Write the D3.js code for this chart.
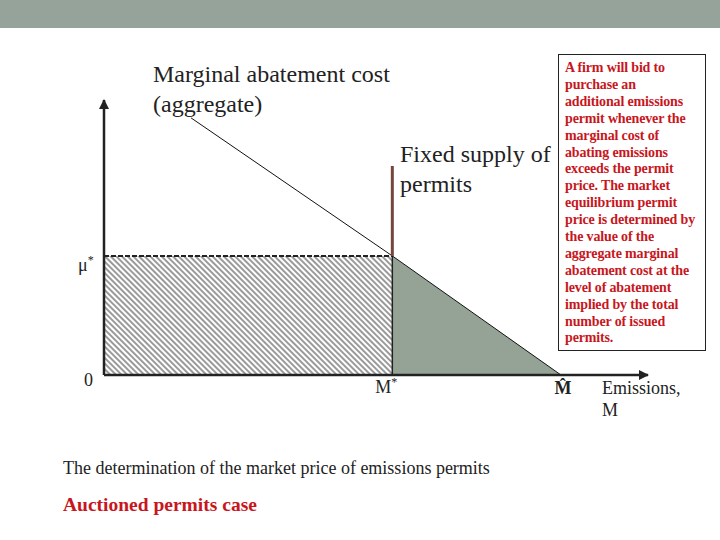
<!DOCTYPE html>
<html>
<head>
<meta charset="utf-8">
<script src="https://cdn.jsdelivr.net/npm/d3@7"></script>
<style>
  html, body { margin: 0; padding: 0; background: #fff; }
</style>
</head>
<body>
<div id="chart"></div>
<script>
// Values (axes run 0..100 in both directions)
const macCurve = [[16, 93.5], [53, 43.3], [84, 0]];   // aggregate marginal abatement cost
const permitSupply = 53;                               // M*
const supplyTop = 76;                                  // top of the fixed-supply line
const priceStar = 43.3;                                // mu*
const mHat = 84;                                       // unregulated emissions
const macLabel = ['Marginal abatement cost', '(aggregate)'];
const supplyLabel = ['Fixed supply of', 'permits'];
const xAxisLabel = ['Emissions,', 'M'];
const noteLines = [
    'A firm will bid to', 'purchase an', 'additional emissions', 'permit whenever the',
    'marginal cost of', 'abating emissions', 'exceeds the permit', 'price. The market',
    'equilibrium permit', 'price is determined by', 'the value of the', 'aggregate marginal',
    'abatement cost at the', 'level of abatement', 'implied by the total', 'number of issued',
    'permits.'
];
const caption = 'The determination of the market price of emissions permits';
const subCaption = 'Auctioned permits case';

const W = 720, H = 540;
const SERIF = '"Liberation Serif", "Times New Roman", Times, serif';

const svg = d3.select('#chart').append('svg')
    .attr('width', W)
    .attr('height', H)
    .attr('font-family', SERIF);

// header band
svg.append('rect').attr('x', 0).attr('y', 0).attr('width', W).attr('height', 28).attr('fill', '#95a39a');

const x = d3.scaleLinear().domain([0, 100]).range([104, 648]);
const y = d3.scaleLinear().domain([0, 100]).range([375, 100]);

// hatch pattern for permit revenue area
const defs = svg.append('defs');
const pat = defs.append('pattern')
    .attr('id', 'hatch')
    .attr('patternUnits', 'userSpaceOnUse')
    .attr('width', 4).attr('height', 4)
    .attr('patternTransform', 'rotate(-45)');
pat.append('rect').attr('width', 4).attr('height', 4).attr('fill', '#fff');
pat.append('line').attr('x1', 1).attr('y1', 0).attr('x2', 1).attr('y2', 4)
    .attr('stroke', '#9a9a9a').attr('stroke-width', 2);

// hatched rectangle 0..M* x 0..mu*
svg.append('rect')
    .attr('x', x(0)).attr('y', y(priceStar))
    .attr('width', x(permitSupply) - x(0))
    .attr('height', y(0) - y(priceStar))
    .attr('fill', 'url(#hatch)');

// abatement cost triangle under MAC right of M*
const tri = [[permitSupply, priceStar], [mHat, 0], [permitSupply, 0]];
svg.append('path')
    .attr('d', d3.line().x(d => x(d[0])).y(d => y(d[1]))(tri) + 'Z')
    .attr('fill', '#95a397');

// M* vertical inside area
svg.append('line')
    .attr('x1', x(permitSupply)).attr('x2', x(permitSupply))
    .attr('y1', y(priceStar)).attr('y2', y(0))
    .attr('stroke', '#222').attr('stroke-width', 1.5);

// dashed price line
svg.append('line')
    .attr('x1', x(0)).attr('x2', x(permitSupply))
    .attr('y1', y(priceStar)).attr('y2', y(priceStar))
    .attr('stroke', '#222').attr('stroke-width', 2)
    .attr('stroke-dasharray', '5,2');

// MAC curve
svg.append('path')
    .attr('d', d3.line().x(d => x(d[0])).y(d => y(d[1]))(macCurve))
    .attr('fill', 'none').attr('stroke', '#111').attr('stroke-width', 1);

// fixed permit supply
svg.append('line')
    .attr('x1', x(permitSupply)).attr('x2', x(permitSupply))
    .attr('y1', y(supplyTop)).attr('y2', y(priceStar))
    .attr('stroke', '#74463d').attr('stroke-width', 3);

// axes with arrowheads
defs.append('marker')
    .attr('id', 'arrow')
    .attr('viewBox', '0 0 10 10')
    .attr('refX', 9).attr('refY', 5)
    .attr('markerWidth', 4).attr('markerHeight', 4)
    .attr('orient', 'auto')
    .append('path').attr('d', 'M0,0 L10,5 L0,10 Z').attr('fill', '#222');

svg.append('line')
    .attr('x1', x(0)).attr('y1', y(0)).attr('x2', x(0)).attr('y2', y(100))
    .attr('stroke', '#222').attr('stroke-width', 2.5).attr('marker-end', 'url(#arrow)');
svg.append('line')
    .attr('x1', x(0)).attr('y1', y(0)).attr('x2', x(100)).attr('y2', y(0))
    .attr('stroke', '#222').attr('stroke-width', 2.5).attr('marker-end', 'url(#arrow)');

// tick labels
const lbl = svg.append('g').attr('fill', '#222').style('font-size', '18px');
lbl.append('text').attr('x', x(0) - 20).attr('y', y(0) + 11).text('0');
const mu = lbl.append('text').attr('x', x(0) - 26).attr('y', y(priceStar) + 15);
mu.append('tspan').text('\u03bc');
mu.append('tspan').attr('dy', -7).style('font-size', '12px').text('*');
const ms = lbl.append('text').attr('x', x(permitSupply) - 17).attr('y', y(0) + 18);
ms.append('tspan').text('M');
ms.append('tspan').attr('dy', -7).style('font-size', '12px').text('*');
lbl.append('text').attr('x', x(mHat) + 2).attr('y', y(0) + 19)
    .attr('text-anchor', 'middle').style('font-weight', 'bold').text('M\u0302');
lbl.selectAll('.xl').data(xAxisLabel).enter().append('text')
    .attr('class', 'xl')
    .attr('x', 602).attr('y', (d, i) => 394 + i * 22)
    .text(d => d);

// curve labels
svg.selectAll('.mac').data(macLabel).enter().append('text')
    .attr('class', 'mac')
    .attr('x', 153).attr('y', (d, i) => 82 + i * 30)
    .attr('fill', '#222').style('font-size', '24px')
    .text(d => d);
svg.selectAll('.sup').data(supplyLabel).enter().append('text')
    .attr('class', 'sup')
    .attr('x', 400).attr('y', (d, i) => 162 + i * 30)
    .attr('fill', '#222').style('font-size', '24px')
    .text(d => d);

// note box
svg.append('rect')
    .attr('x', 558.5).attr('y', 54.5).attr('width', 147).attr('height', 296)
    .attr('fill', '#fff').attr('stroke', '#222').attr('stroke-width', 1);
svg.selectAll('.note').data(noteLines).enter().append('text')
    .attr('class', 'note')
    .attr('x', 565).attr('y', (d, i) => 72 + i * 16.9)
    .attr('fill', '#c8161d').style('font-size', '14px').style('font-weight', 'bold')
    .style('letter-spacing', '-0.15px')
    .text(d => d);

// captions
svg.append('text').attr('x', 63).attr('y', 474)
    .attr('fill', '#222').style('font-size', '18px').text(caption);
svg.append('text').attr('x', 63).attr('y', 511)
    .attr('fill', '#c8161d').style('font-size', '19.5px').style('font-weight', 'bold').text(subCaption);
</script>
</body>
</html>
